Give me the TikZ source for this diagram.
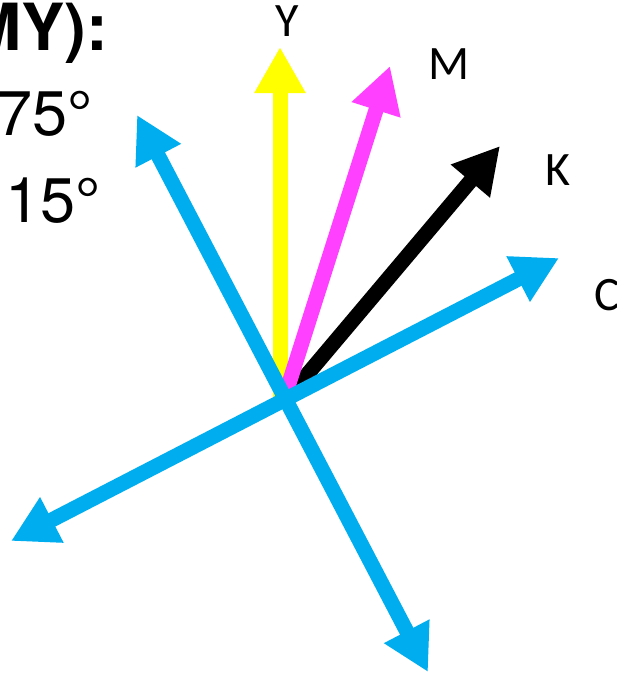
\documentclass[tikz,border=0pt]{standalone}
\usepackage{fontspec}
\setmainfont{TeX Gyre Heros}
\newfontfamily\labelfont{Carlito}
\usetikzlibrary{arrows.meta}
\definecolor{inkcyan}{RGB}{0,174,239}
\definecolor{inkmagenta}{RGB}{255,64,255}
\definecolor{inkyellow}{RGB}{255,255,0}

\begin{document}
\begin{tikzpicture}[x=1pt, y=-1pt, >={Triangle[length=46pt, width=48pt]},
        vec/.style={line width=15pt, ->},
        axis/.style={line width=15pt, <->, inkcyan},
        chan/.style={font=\labelfont\fontsize{48}{50}\selectfont, anchor=base west, inner sep=0pt},
        angletext/.style={font=\fontsize{63}{70}\selectfont, anchor=base west, inner sep=0pt},
        headtext/.style={font=\bfseries\fontsize{65}{70}\selectfont, anchor=base east, inner sep=0pt}]
        \useasboundingbox (0,0) rectangle (617,673);
        \clip (0,0) rectangle (617,673);

        % Heading and angles (cut at the left edge)
        \node[headtext] (head) at (108,50) {MY):};
        \node[angletext] (ang75) at (-3,135) {75°};
        \node[angletext] (ang15) at (5,222) {15°};

        % Start and end points
        \coordinate (Ys) at (280,397);  \coordinate (Ytip) at (280,47);
        \coordinate (Ks) at (289,396);  \coordinate (Ktip) at (500,146);
        \coordinate (Ms) at (285,396);  \coordinate (Mtip) at (390,66);
        \coordinate (cLL) at (11,541);  \coordinate (cUR) at (559,258);
        \coordinate (cUL) at (137,115); \coordinate (cLR) at (428,672);

        % Screen vectors Y, K, M
        \foreach \s/\t/\col in {Ys/Ytip/inkyellow, Ks/Ktip/black, Ms/Mtip/inkmagenta} {
            \draw[vec, \col] (\s) -- (\t);
        }

        % Cyan axes
        \draw[axis] (cLL) -- (cUR);
        \draw[axis] (cUL) -- (cLR);

        % Channel labels
        \node[chan, anchor=base] (labY) at (287,36) {Y};
        \node[chan] (labM) at (428,79) {M};
        \node[chan] (labK) at (545,185) {K};
        \node[chan] (labC) at (594,310) {C};
    \end{tikzpicture}
\end{document}
